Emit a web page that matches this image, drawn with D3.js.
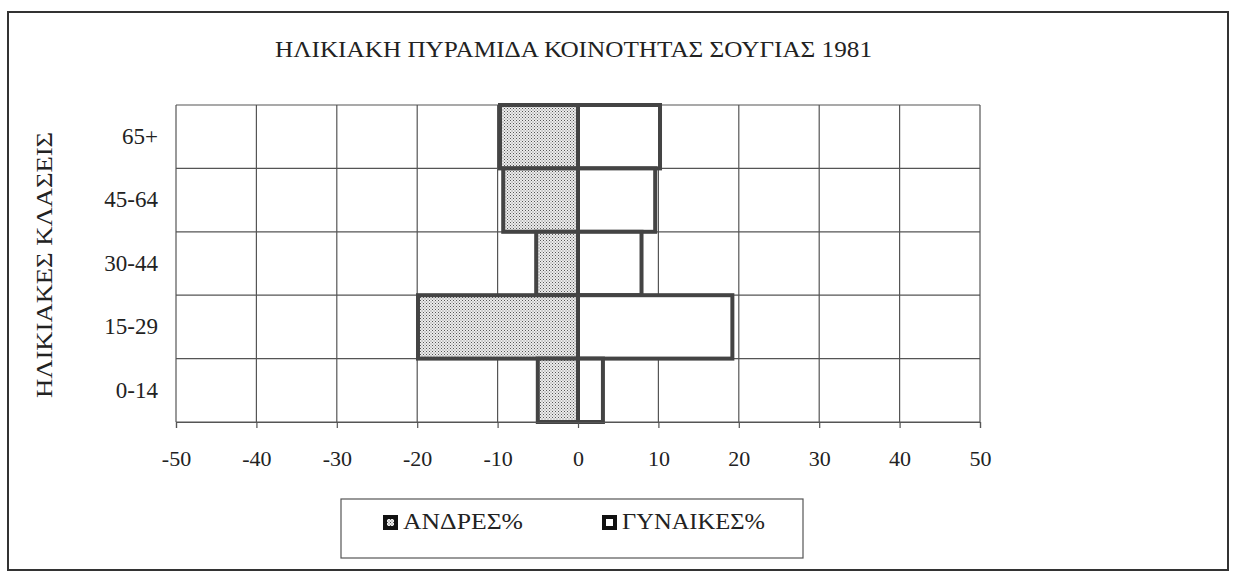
<!DOCTYPE html>
<html>
<head>
<meta charset="utf-8">
<script src="https://cdn.jsdelivr.net/npm/d3@7"></script>
<style>
  html, body { margin: 0; padding: 0; background: #fff; }
  svg { display: block; }
  text { font-family: "Liberation Serif", "Times New Roman", serif; fill: #222; }
</style>
</head>
<body>
<svg id="chart" width="1237" height="572"></svg>
<script>
// Age pyramid, Sougia community, 1981 (percent of population)
const categories = ["65+", "45-64", "30-44", "15-29", "0-14"];
const men = [-9.7, -9.3, -5.2, -19.9, -5.0];     // drawn to the left
const women = [10.2, 9.6, 7.9, 19.2, 3.1];       // drawn to the right
const xTicks = [-50, -40, -30, -20, -10, 0, 10, 20, 30, 40, 50];
const seriesNames = ["ΑΝΔΡΕΣ%", "ΓΥΝΑΙΚΕΣ%"];
const title = "ΗΛΙΚΙΑΚΗ ΠΥΡΑΜΙΔΑ ΚΟΙΝΟΤΗΤΑΣ ΣΟΥΓΙΑΣ 1981";
const yTitle = "ΗΛΙΚΙΑΚΕΣ ΚΛΑΣΕΙΣ";

const svg = d3.select("#chart");
const plot = { left: 176, right: 980, top: 105, bottom: 422 };

// widen glyphs of a text element so it spans the given width
function fitWidth(sel, width) {
  sel.attr("textLength", width).attr("lengthAdjust", "spacingAndGlyphs");
}

// dotted fill for the left-hand series
const defs = svg.append("defs");
const pat = defs.append("pattern")
  .attr("id", "dots").attr("patternUnits", "userSpaceOnUse")
  .attr("width", 3).attr("height", 3);
pat.append("rect").attr("width", 3).attr("height", 3).attr("fill", "#ececec");
pat.append("rect").attr("x", 0).attr("y", 0).attr("width", 1).attr("height", 1).attr("fill", "#555");
pat.append("rect").attr("x", 1.5).attr("y", 1.5).attr("width", 1).attr("height", 1).attr("fill", "#777");

// outer frame
svg.append("rect")
  .attr("x", 8).attr("y", 12).attr("width", 1220).attr("height", 558)
  .attr("fill", "#fff").attr("stroke", "#333").attr("stroke-width", 2);

const x = d3.scaleLinear().domain([xTicks[0], xTicks[xTicks.length - 1]])
  .range([plot.left, plot.right]);
const y = d3.scaleBand().domain(categories).range([plot.top, plot.bottom]).padding(0);

// grid
const grid = svg.append("g").attr("stroke", "#555").attr("stroke-width", 1.2);
grid.selectAll("line.v").data(xTicks).join("line")
  .attr("x1", d => x(d)).attr("x2", d => x(d))
  .attr("y1", plot.top).attr("y2", plot.bottom);
const hLines = categories.map(c => y(c)).concat([plot.bottom]);
grid.selectAll("line.h").data(hLines).join("line")
  .attr("x1", plot.left).attr("x2", plot.right)
  .attr("y1", d => d).attr("y2", d => d);

// bars
const barStyle = sel => sel.attr("stroke", "#444").attr("stroke-width", 4);
svg.append("g").selectAll("rect").data(categories).join("rect")
  .attr("x", (c, i) => x(men[i])).attr("width", (c, i) => x(0) - x(men[i]))
  .attr("y", c => y(c)).attr("height", y.bandwidth())
  .attr("fill", "url(#dots)").call(barStyle);
svg.append("g").selectAll("rect").data(categories).join("rect")
  .attr("x", x(0)).attr("width", (c, i) => x(women[i]) - x(0))
  .attr("y", c => y(c)).attr("height", y.bandwidth())
  .attr("fill", "#fff").call(barStyle);

// x axis
const xAxis = svg.append("g").attr("transform", `translate(0,${plot.bottom})`)
  .call(d3.axisBottom(x).tickValues(xTicks).tickFormat(d => String(d))
    .tickSize(6).tickPadding(22));
xAxis.select(".domain").attr("stroke", "#555").attr("stroke-width", 1.2);
xAxis.selectAll(".tick line").attr("stroke", "#555").attr("stroke-width", 1.2);
xAxis.selectAll("text").attr("font-size", 22).attr("fill", "#222")
  .attr("font-family", "Liberation Serif, serif");

// y category labels
const yAxis = svg.append("g").attr("transform", `translate(${plot.left},0)`)
  .call(d3.axisLeft(y).tickSize(0).tickPadding(18));
yAxis.select(".domain").remove();
yAxis.selectAll("text").attr("font-size", 23).attr("fill", "#222")
  .attr("font-family", "Liberation Serif, serif");

// titles
svg.append("text").attr("x", 275).attr("y", 57)
  .attr("font-size", 24).text(title).call(fitWidth, 597);
svg.append("text").attr("transform", "translate(52,398) rotate(-90)")
  .attr("font-size", 23).text(yTitle).call(fitWidth, 266);

// legend
const lg = svg.append("g");
lg.append("rect").attr("x", 341).attr("y", 499).attr("width", 462).attr("height", 59)
  .attr("fill", "#fff").attr("stroke", "#555").attr("stroke-width", 1.2);
const legendX = [383, 602];
const legendW = [120, 143];
const legendFills = ["url(#dots)", "#fff"];
seriesNames.forEach((name, i) => {
  lg.append("rect").attr("x", legendX[i] + 2).attr("y", 517)
    .attr("width", 11).attr("height", 11)
    .attr("fill", legendFills[i]).attr("stroke", "#111").attr("stroke-width", 4);
  lg.append("text").attr("x", legendX[i] + 20).attr("y", 529)
    .attr("font-size", 24).text(name).call(fitWidth, legendW[i]);
});
</script>
</body>
</html>
